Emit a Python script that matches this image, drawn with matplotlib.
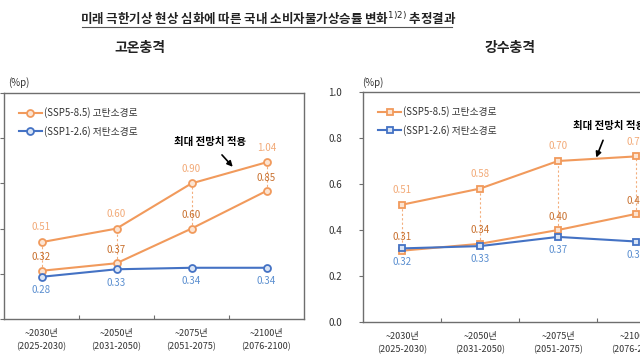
import numpy as np
import matplotlib.pyplot as plt

plt.rcParams['font.family'] = ['Noto Sans CJK KR', 'DejaVu Sans']

categories = ['~2030년\n(2025-2030)', '~2050년\n(2031-2050)', '~2075년\n(2051-2075)', '~2100년\n(2076-2100)']
legend_hi = '(SSP5-8.5) 고탄소경로'
legend_lo = '(SSP1-2.6) 저탄소경로'

# 고온충격
heat_max = [0.51, 0.60, 0.90, 1.04]
heat_ssp585 = [0.32, 0.37, 0.60, 0.85]
heat_ssp126 = [0.28, 0.33, 0.34, 0.34]

# 강수충격
rain_max = [0.51, 0.58, 0.70, 0.72]
rain_ssp585 = [0.31, 0.34, 0.40, 0.47]
rain_ssp126 = [0.32, 0.33, 0.37, 0.35]

ORANGE = '#F19A5C'
ORANGE_LBL = '#F2AA78'
ORANGE_DARK = '#C8702E'
BLUE = '#4472C4'
BLUE_LBL = '#5B8FD0'
FRAME = '#6E6E6E'


def panel(ax, vmax, v585, v126, marker, ylim, yticks, show_ylabels, note_xy, note_arrow):
    x = np.arange(len(categories))
    for xi, a, b in zip(x, vmax, v585):
        ax.plot([xi, xi], [b, a], ls=(0, (2, 2)), color=ORANGE, lw=0.8, alpha=0.8)
    ms = 5
    ax.plot(x, vmax, color=ORANGE, lw=1.5, marker=marker, ms=ms, mfc='#FCE4D2', mec=ORANGE, mew=1.3)
    ax.plot(x, v585, color=ORANGE, lw=1.5, marker=marker, ms=ms, mfc='#FCE4D2', mec=ORANGE, mew=1.3,
            label=legend_hi)
    ax.plot(x, v126, color=BLUE, lw=1.5, marker=marker, ms=ms, mfc='#D9E4F5', mec=BLUE, mew=1.3,
            label=legend_lo)
    for xi, v in zip(x, vmax):
        ax.annotate(f'{v:.2f}', (xi, v), xytext=(0, 7), textcoords='offset points',
                    ha='center', va='bottom', fontsize=7, color=ORANGE_LBL)
    for xi, v in zip(x, v585):
        ax.annotate(f'{v:.2f}', (xi, v), xytext=(0, 6), textcoords='offset points',
                    ha='center', va='bottom', fontsize=7, color=ORANGE_DARK)
    for xi, v in zip(x, v126):
        ax.annotate(f'{v:.2f}', (xi, v), xytext=(0, -6), textcoords='offset points',
                    ha='center', va='top', fontsize=7, color=BLUE_LBL)

    ax.set_xlim(-0.5, 3.5)
    ax.set_ylim(*ylim)
    ax.set_yticks(yticks)
    if show_ylabels:
        ax.set_yticklabels([f'{t:.1f}' for t in yticks], fontsize=7, color='#333333')
    else:
        ax.set_yticklabels([])
    ax.set_xticks([0.5, 1.5, 2.5], minor=False)
    ax.set_xticklabels([])
    ax.set_xticks(x, minor=True)
    ax.set_xticklabels(categories, minor=True, fontsize=6.5, color='#333333', linespacing=1.6)
    ax.tick_params(axis='x', which='minor', length=0, pad=7)
    ax.tick_params(axis='x', which='major', direction='in', length=3, color=FRAME)
    ax.tick_params(axis='y', direction='out', length=3, color=FRAME, pad=12)
    for s in ax.spines.values():
        s.set_color(FRAME)
        s.set_linewidth(1.0)

    ax.legend(loc='upper left', bbox_to_anchor=(0.02, 0.975), frameon=False, fontsize=7,
              handlelength=2.4, labelspacing=0.75, handletextpad=0.2, labelcolor='#333333')
    ax.annotate('최대 전망치 적용', xy=note_arrow, xytext=note_xy,
                fontsize=7.5, fontweight='bold', ha='center', va='center',
                arrowprops=dict(arrowstyle='-|>', color='black', lw=1.2, mutation_scale=8,
                                shrinkA=5, shrinkB=0))


fig = plt.figure(figsize=(6.4, 3.6), dpi=100)
W, H = 640, 360

fig.text(268 / W, 1 - 18 / H, '미래 극한기상 현상 심화에 따른 국내 소비자물가상승률 변화$^{1)2)}$ 추정결과',
         ha='center', va='center', fontsize=9, fontweight='bold', color='#222222')
fig.add_artist(plt.Line2D([82 / W, 452 / W], [1 - 27 / H, 1 - 27 / H], color='#555555', lw=0.8))
fig.text(140 / W, 1 - 48 / H, '고온충격', ha='center', va='center', fontsize=10, fontweight='bold',
         color='#222222')
fig.text(510 / W, 1 - 48 / H, '강수충격', ha='center', va='center', fontsize=10, fontweight='bold',
         color='#222222')

ax1 = fig.add_axes([4 / W, 1 - 319 / H, 300 / W, 226 / H])
panel(ax1, heat_max, heat_ssp585, heat_ssp126, 'o', (0, 1.5), [0, 0.3, 0.6, 0.9, 1.2, 1.5], False,
      (2.25, 1.175), (2.55, 1.01))
fig.text(8 / W, 1 - 83 / H, '(%p)', ha='left', va='center', fontsize=7, color='#333333')

ax2 = fig.add_axes([363 / W, 1 - 322 / H, 312 / W, 230 / H])
panel(ax2, rain_max, rain_ssp585, rain_ssp126, 's', (0, 1.0), [0, 0.2, 0.4, 0.6, 0.8, 1.0], True,
      (2.65, 0.852), (2.49, 0.715))
fig.text(362 / W, 1 - 83 / H, '(%p)', ha='left', va='center', fontsize=7, color='#333333')

fig.savefig('out.png', dpi=100)
